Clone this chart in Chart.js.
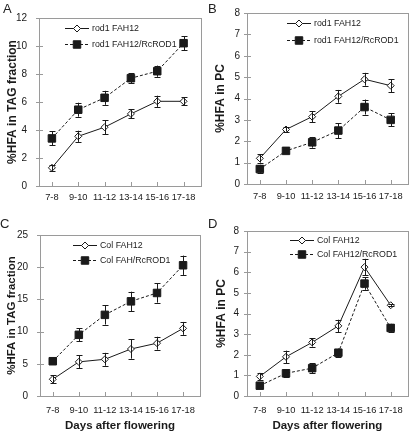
<!DOCTYPE html>
<html>
<head>
<meta charset="utf-8">
<script src="https://cdn.jsdelivr.net/npm/chart.js@4.4.0/dist/chart.umd.min.js"></script>
<style>
  html, body { margin: 0; padding: 0; background: #fff; }
  #fig { position: relative; width: 414px; height: 434px; font-family: "Liberation Sans", Arial, sans-serif; }
  .panel { position: absolute; width: 207px; height: 217px; }
  .panel canvas { display: block; }
  .tag { position: absolute; font-size: 13px; color: #222; line-height: 1; }
</style>
</head>
<body>
<div id="fig">
  <div class="panel" style="left:0;top:0"><canvas id="cA" width="207" height="217"></canvas><div class="tag" style="left:3px;top:2px">A</div></div>
  <div class="panel" style="left:207px;top:0"><canvas id="cB" width="207" height="217"></canvas><div class="tag" style="left:1px;top:2px">B</div></div>
  <div class="panel" style="left:0;top:217px"><canvas id="cC" width="207" height="217"></canvas><div class="tag" style="left:0;top:0">C</div></div>
  <div class="panel" style="left:207px;top:217px"><canvas id="cD" width="207" height="217"></canvas><div class="tag" style="left:1px;top:0">D</div></div>
</div>
<script>
// ── Data ───────────────────────────────────
var days = ['7-8', '9-10', '11-12', '13-14', '15-16', '17-18'];

// A: rod1, %HFA in TAG
var rodTagFah    = [1.3, 3.55, 4.2, 5.15, 6.05, 6.05];
var rodTagFahErr = [0.22, 0.4, 0.5, 0.32, 0.4, 0.3];
var rodTagRod    = [3.4, 5.45, 6.3, 7.7, 8.2, 10.2];
var rodTagRodErr = [0.5, 0.5, 0.5, 0.37, 0.4, 0.5];

// B: rod1, %HFA in PC
var rodPcFah    = [1.2, 2.55, 3.15, 4.1, 4.9, 4.6];
var rodPcFahErr = [0.2, 0.1, 0.25, 0.3, 0.3, 0.3];
var rodPcRod    = [0.7, 1.55, 1.95, 2.5, 3.6, 3.0];
var rodPcRodErr = [0.2, 0.1, 0.25, 0.35, 0.35, 0.3];

// C: Col, %HFA in TAG
var colTagFah    = [2.6, 5.3, 5.7, 7.3, 8.2, 10.5];
var colTagFahErr = [0.6, 1.0, 1.0, 1.5, 1.0, 1.0];
var colTagRod    = [5.4, 9.5, 12.6, 14.7, 16.0, 20.3];
var colTagRodErr = [0.4, 1.0, 1.5, 1.5, 1.5, 1.5];

// D: Col, %HFA in PC
var colPcFah    = [0.95, 1.9, 2.6, 3.4, 6.25, 4.4];
var colPcFahErr = [0.15, 0.3, 0.2, 0.3, 0.4, 0.05];
var colPcRod    = [0.5, 1.1, 1.35, 2.1, 5.45, 3.3];
var colPcRodErr = [0.05, 0.2, 0.25, 0.2, 0.3, 0.2];

// ── Styles ─────────────────────────────────
var FONT = '"Liberation Sans", Arial, sans-serif';
var INK = '#1a1a1a';
var FRAME = '#9a9a9a';

function pts(vals) {
  return vals.map(function(v, i) { return { x: i, y: v }; });
}

function markerPath(ctx, style, x, y, r) {
  ctx.beginPath();
  if (style === 'rect') {
    var s = Math.SQRT1_2 * r;
    ctx.rect(x - s, y - s, 2 * s, 2 * s);
  } else {
    ctx.moveTo(x - r, y); ctx.lineTo(x, y - r); ctx.lineTo(x + r, y); ctx.lineTo(x, y + r);
    ctx.closePath();
  }
}

// ── Plugins ────────────────────────────────
// error bars + frame + small tick marks
var decor = {
  id: 'decor',
  afterDatasetsDraw: function(chart) {
    var ctx = chart.ctx, ys = chart.scales.y, xs = chart.scales.x, a = chart.chartArea;
    ctx.save();
    ctx.strokeStyle = INK;
    ctx.lineWidth = 1;
    chart.data.datasets.forEach(function(ds, i) {
      var meta = chart.getDatasetMeta(i);
      meta.data.forEach(function(pt, j) {
        var v = ds.data[j].y, e = ds.errors[j];
        var top = ys.getPixelForValue(v + e), bot = ys.getPixelForValue(v - e);
        var x = Math.round(pt.x) + 0.5;
        ctx.beginPath();
        ctx.moveTo(x, top); ctx.lineTo(x, bot);
        ctx.moveTo(x - 3, Math.round(top) + 0.5); ctx.lineTo(x + 3, Math.round(top) + 0.5);
        ctx.moveTo(x - 3, Math.round(bot) + 0.5); ctx.lineTo(x + 3, Math.round(bot) + 0.5);
        ctx.stroke();
      });
    });
    // frame
    ctx.strokeStyle = FRAME;
    ctx.strokeRect(Math.round(a.left) + 0.5, Math.round(a.top) + 0.5,
                   Math.round(a.right - a.left), Math.round(a.bottom - a.top));
    // ticks
    ctx.beginPath();
    ys.ticks.forEach(function(t) {
      var y = Math.round(ys.getPixelForValue(t.value)) + 0.5;
      ctx.moveTo(a.left - 3, y); ctx.lineTo(a.left + 4, y);
    });
    days.forEach(function(d, i) {
      var x = Math.round(xs.getPixelForValue(i)) + 0.5;
      ctx.moveTo(x, a.bottom); ctx.lineTo(x, a.bottom - 4);
    });
    ctx.stroke();
    ctx.restore();
  }
};

// legend with line + marker sample
var lineLegend = {
  id: 'lineLegend',
  afterDraw: function(chart, args, opts) {
    var ctx = chart.ctx, a = chart.chartArea;
    ctx.save();
    chart.data.datasets.forEach(function(ds, i) {
      var x0 = a.left + opts.x, y = a.top + opts.y + i * opts.gap + 0.5, len = 24;
      ctx.strokeStyle = INK;
      ctx.lineWidth = 1;
      ctx.setLineDash(ds.borderDash || []);
      ctx.beginPath(); ctx.moveTo(x0, y); ctx.lineTo(x0 + len, y); ctx.stroke();
      ctx.setLineDash([]);
      markerPath(ctx, ds.pointStyle, x0 + len / 2, y, ds.pointRadius);
      ctx.fillStyle = ds.pointBackgroundColor; ctx.fill(); ctx.stroke();
      ctx.fillStyle = INK;
      ctx.font = '8.8px ' + FONT;
      ctx.textBaseline = 'middle';
      ctx.fillText(ds.label, x0 + len + 3, y + 0.5);
    });
    ctx.restore();
  }
};

// ── Chart builder ──────────────────────────
function makePanel(id, cfg) {
  var W = 207, H = 217;
  var datasets = [
    { label: cfg.names[0], data: pts(cfg.s1), errors: cfg.e1, borderColor: INK, borderWidth: 1,
      pointStyle: 'rectRot', pointRadius: 3.5, pointBackgroundColor: '#fff', pointBorderColor: INK, pointBorderWidth: 1 },
    { label: cfg.names[1], data: pts(cfg.s2), errors: cfg.e2, borderColor: INK, borderWidth: 1, borderDash: [3, 2],
      pointStyle: 'rect', pointRadius: 5.3, pointBackgroundColor: INK, pointBorderColor: INK, pointBorderWidth: 1 }
  ];
  new Chart(document.getElementById(id), {
    type: 'line',
    data: { datasets: datasets },
    plugins: [decor, lineLegend],
    options: {
      responsive: false,
      animation: false,
      events: [],
      layout: { padding: { left: 0, top: cfg.area.top, right: W - cfg.area.right, bottom: 0 } },
      plugins: {
        legend: { display: false },
        tooltip: { enabled: false },
        lineLegend: cfg.legend
      },
      scales: {
        x: {
          type: 'linear', min: -0.49, max: 5.65,
          afterFit: function(s) { s.height = H - cfg.area.bottom; },
          afterBuildTicks: function(s) { s.ticks = days.map(function(d, i) { return { value: i }; }); },
          grid: { display: false, drawTicks: false },
          border: { display: false },
          ticks: {
            padding: cfg.xPad, color: INK, maxRotation: 0, autoSkip: false,
            font: { size: 9.3, family: FONT },
            callback: function(v) { return days[v]; }
          },
          title: {
            display: !!cfg.xTitle, text: cfg.xTitle, color: INK,
            font: { size: 11.5, weight: 'bold', family: FONT },
            padding: { top: 0, bottom: 1 }
          }
        },
        y: {
          min: 0, max: cfg.yMax,
          afterFit: function(s) { s.width = cfg.area.left; },
          grid: { display: false, drawTicks: false },
          border: { display: false },
          ticks: { stepSize: cfg.yStep, padding: cfg.yPad, color: INK, font: { size: 10, family: FONT } },
          title: {
            display: true, text: cfg.yTitle, color: INK,
            font: { size: cfg.yTitleSize, weight: 'bold', family: FONT },
            padding: { top: cfg.yTitleLeft, bottom: 0 }
          }
        }
      }
    }
  });
}

makePanel('cA', {
  names: ['rod1 FAH12', 'rod1 FAH12/RcROD1'],
  s1: rodTagFah, e1: rodTagFahErr, s2: rodTagRod, e2: rodTagRodErr,
  yMax: 12, yStep: 2, yTitle: '%HFA in TAG fraction', yTitleSize: 12, yTitleLeft: 5,
  area: { left: 39, right: 201, top: 5, bottom: 186 }, xPad: 6, yPad: 12,
  legend: { x: 26, y: 10, gap: 16 }
});
makePanel('cB', {
  names: ['rod1 FAH12', 'rod1 FAH12/RcROD1'],
  s1: rodPcFah, e1: rodPcFahErr, s2: rodPcRod, e2: rodPcRodErr,
  yMax: 8, yStep: 1, yTitle: '%HFA in PC', yTitleSize: 12, yTitleLeft: 6,
  area: { left: 40, right: 201, top: 5, bottom: 184 }, xPad: 7, yPad: 7,
  legend: { x: 40, y: 10, gap: 17 }
});
makePanel('cC', {
  names: ['Col FAH12', 'Col FAH/RcROD1'],
  s1: colTagFah, e1: colTagFahErr, s2: colTagRod, e2: colTagRodErr,
  yMax: 25, yStep: 5, yTitle: '%HFA in TAG fraction', yTitleSize: 11.5, yTitleLeft: 5,
  area: { left: 40, right: 200, top: 5, bottom: 179 }, xPad: 9, yPad: 12,
  xTitle: 'Days after flowering',
  legend: { x: 33, y: 10, gap: 15 }
});
makePanel('cD', {
  names: ['Col FAH12', 'Col FAH12/RcROD1'],
  s1: colPcFah, e1: colPcFahErr, s2: colPcRod, e2: colPcRodErr,
  yMax: 8, yStep: 1, yTitle: '%HFA in PC', yTitleSize: 12, yTitleLeft: 7,
  area: { left: 40, right: 203, top: 6, bottom: 179 }, xPad: 9, yPad: 8,
  xTitle: 'Days after flowering',
  legend: { x: 43, y: 9, gap: 14 }
});
</script>
</body>
</html>
